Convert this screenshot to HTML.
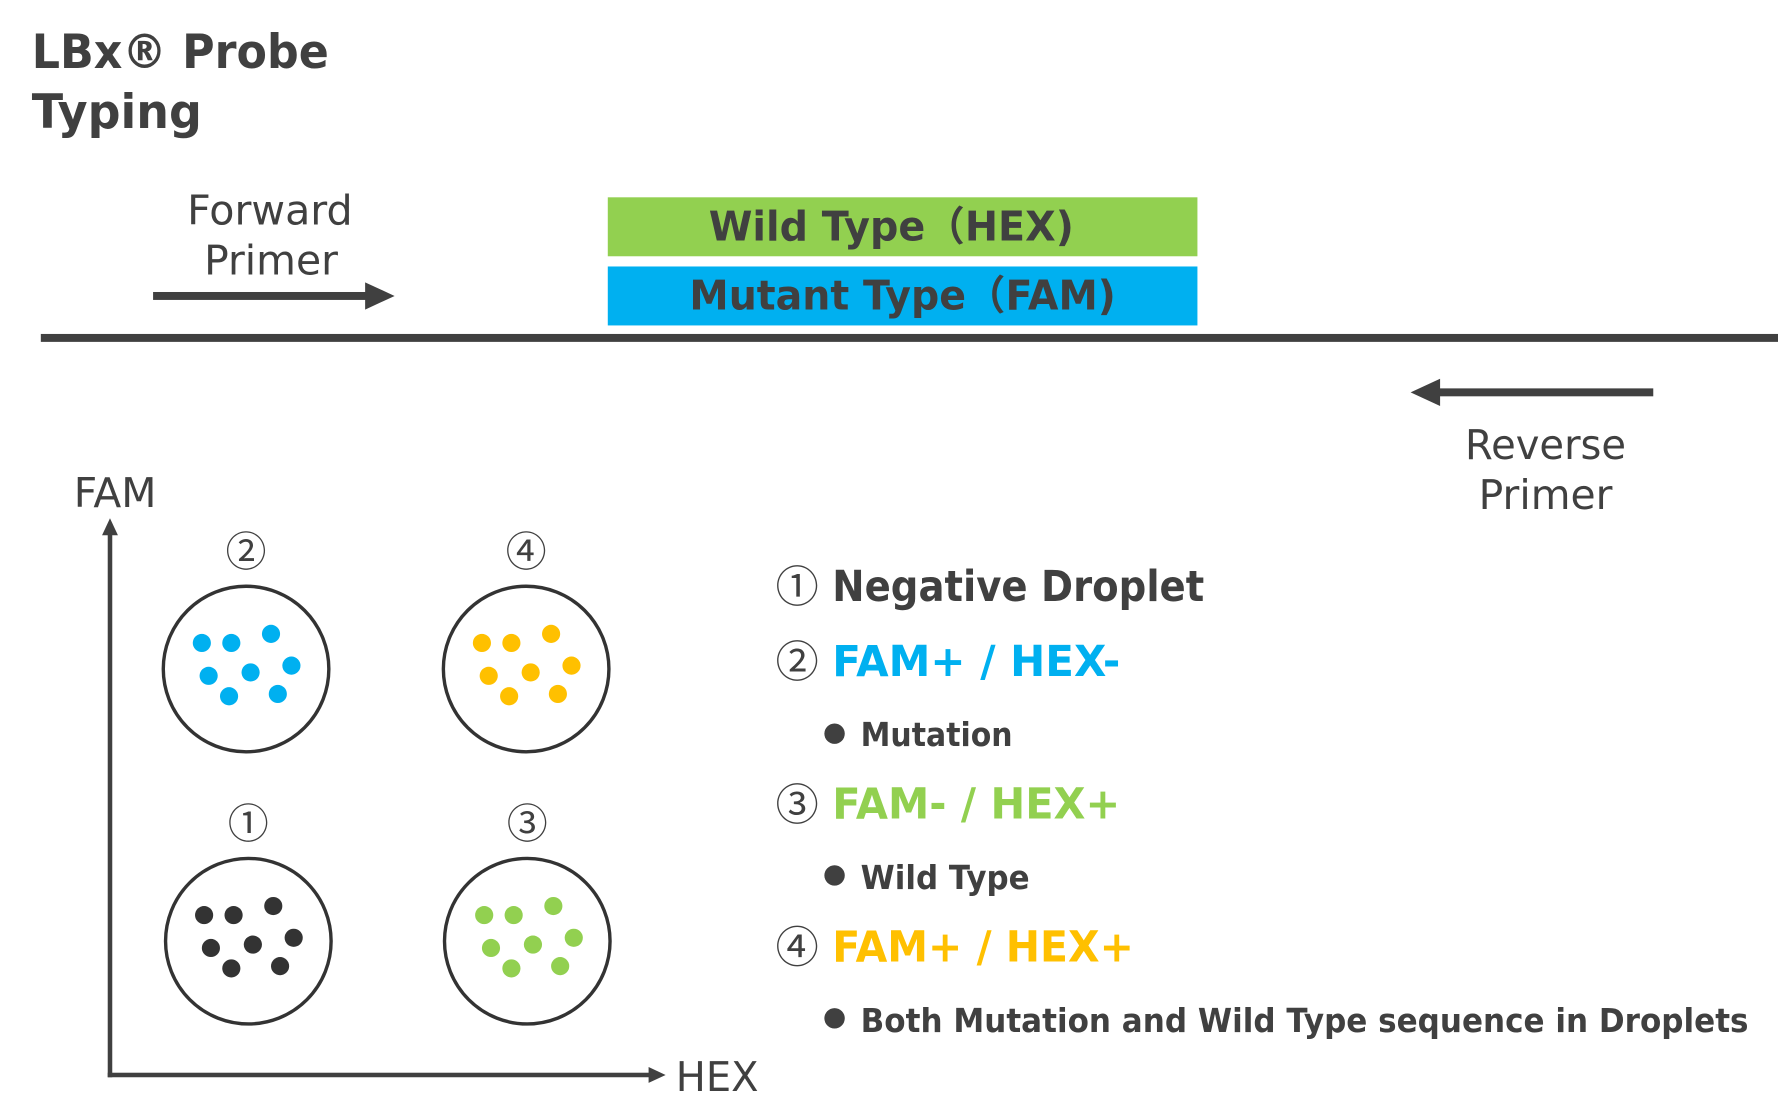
<!DOCTYPE html>
<html><head><meta charset="utf-8"><style>
html,body{margin:0;padding:0;background:#fff;width:1778px;height:1109px;overflow:hidden}
svg{display:block}
text{font-family:"DejaVu Sans","Liberation Sans","Noto Sans CJK JP",sans-serif;fill:#404040}
.b{font-weight:bold}
.c{font-family:"Noto Sans CJK JP",sans-serif}
</style></head><body>
<svg width="1778" height="1109" viewBox="0 0 1568 978" preserveAspectRatio="none" xmlns="http://www.w3.org/2000/svg">
<text x="28" y="60" class="b" font-size="42" textLength="262" lengthAdjust="spacingAndGlyphs">LBx® Probe</text>
<text x="28" y="113" class="b" font-size="42" textLength="150" lengthAdjust="spacingAndGlyphs">Typing</text>

<text x="238" y="198" font-size="36" text-anchor="middle" textLength="146" lengthAdjust="spacingAndGlyphs">Forward</text>
<text x="239" y="242" font-size="36" text-anchor="middle" textLength="118" lengthAdjust="spacingAndGlyphs">Primer</text>
<rect x="135" y="257.5" width="192" height="7" fill="#404040"/>
<polygon points="322,249 348,261 322,273" fill="#404040"/>

<rect x="536" y="174" width="520" height="52" fill="#92d050"/>
<text x="786" y="212" class="b" font-size="36" text-anchor="middle" textLength="322" lengthAdjust="spacingAndGlyphs">Wild Type（HEX)</text>
<rect x="536" y="235" width="520" height="52" fill="#00b0f0"/>
<text x="796" y="273" class="b" font-size="36" text-anchor="middle" textLength="376" lengthAdjust="spacingAndGlyphs">Mutant Type（FAM)</text>

<rect x="36" y="294.5" width="1532" height="7" fill="#404040"/>

<rect x="1266" y="342.5" width="192" height="7" fill="#404040"/>
<polygon points="1270,334 1244,346 1270,358" fill="#404040"/>
<text x="1363" y="405" font-size="36" text-anchor="middle" textLength="142" lengthAdjust="spacingAndGlyphs">Reverse</text>
<text x="1363" y="449" font-size="36" text-anchor="middle" textLength="118" lengthAdjust="spacingAndGlyphs">Primer</text>

<text x="65" y="447" font-size="36" textLength="73" lengthAdjust="spacingAndGlyphs">FAM</text>
<rect x="95" y="468" width="4" height="482" fill="#404040"/>
<polygon points="90,472 97,457 104,472" fill="#404040"/>
<rect x="95" y="946" width="480" height="4" fill="#404040"/>
<polygon points="572,941 587,948 572,955" fill="#404040"/>
<text x="596" y="962" font-size="36" textLength="73" lengthAdjust="spacingAndGlyphs">HEX</text>

<g font-size="36" text-anchor="middle" class="c">
<text class="c" x="217" y="499">②</text><text class="c" x="464" y="499">④</text>
<text class="c" x="219" y="739">①</text><text class="c" x="465" y="739">③</text>
</g>
<g fill="none" stroke="#333" stroke-width="3">
<circle cx="217" cy="590" r="73"/><circle cx="464" cy="590" r="73"/>
<circle cx="219" cy="830" r="73"/><circle cx="465" cy="830" r="73"/>
</g>
<defs>
<g id="d">
<circle cx="-39" cy="-23" r="8"/><circle cx="-13" cy="-23" r="8"/><circle cx="22" cy="-31" r="8"/>
<circle cx="-33" cy="6" r="8"/><circle cx="4" cy="3" r="8"/><circle cx="40" cy="-3" r="8"/>
<circle cx="-15" cy="24" r="8"/><circle cx="28" cy="22" r="8"/>
</g>
</defs>
<use href="#d" x="217" y="590" fill="#00b0f0"/>
<use href="#d" x="464" y="590" fill="#ffc000"/>
<use href="#d" x="219" y="830" fill="#333"/>
<use href="#d" x="466" y="830" fill="#92d050"/>

<g font-size="38">
<text class="c" x="684" y="531">①</text><text class="c" x="684" y="597">②</text><text class="c" x="684" y="723">③</text><text class="c" x="684" y="849">④</text>
</g>
<text x="734" y="530" class="b" font-size="38" textLength="328" lengthAdjust="spacingAndGlyphs">Negative Droplet</text>
<text x="734" y="596" class="b" font-size="38" textLength="254" lengthAdjust="spacingAndGlyphs" style="fill:#00b0f0">FAM+ / HEX-</text>
<text x="734" y="722" class="b" font-size="38" textLength="254" lengthAdjust="spacingAndGlyphs" style="fill:#92d050">FAM- / HEX+</text>
<text x="734" y="848" class="b" font-size="38" textLength="266" lengthAdjust="spacingAndGlyphs" style="fill:#ffc000">FAM+ / HEX+</text>
<g fill="#404040"><circle cx="736" cy="647" r="9"/><circle cx="736" cy="772" r="9"/><circle cx="736" cy="898" r="9"/></g>
<text x="759" y="658" class="b" font-size="29" textLength="134" lengthAdjust="spacingAndGlyphs">Mutation</text>
<text x="759" y="784" class="b" font-size="29" textLength="149" lengthAdjust="spacingAndGlyphs">Wild Type</text>
<text x="759" y="910" class="b" font-size="29" textLength="783" lengthAdjust="spacingAndGlyphs">Both Mutation and Wild Type sequence in Droplets</text>
</svg>
</body></html>
